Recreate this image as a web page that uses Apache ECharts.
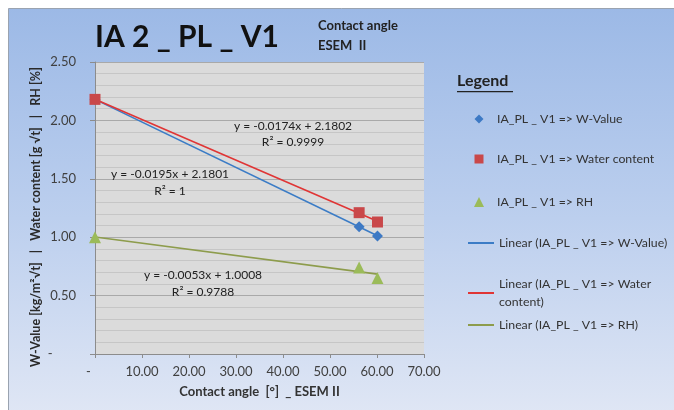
<!DOCTYPE html>
<html>
<head>
<meta charset="utf-8">
<script src="https://cdn.jsdelivr.net/npm/echarts@6/dist/echarts.min.js"></script>
<style>
html,body{margin:0;padding:0;background:#fff;}
#c{width:674px;height:410px;}
</style>
</head>
<body>
<div id="c"></div>
<script>
// ---- data ----
const contactAngle = [0, 56.2, 60.1];
const wValue = [2.18, 1.09, 1.01];
const waterContent = [2.18, 1.21, 1.13];
const rhValue = [1.00, 0.74, 0.65];

const seriesNames = ['IA_PL _ V1 => W-Value', 'IA_PL _ V1 => Water content', 'IA_PL _ V1 => RH'];
const trendNames = ['Linear (IA_PL _ V1 => W-Value)', 'Linear (IA_PL _ V1 => Water content)', 'Linear (IA_PL _ V1 => RH)'];
const eqW = ['y = -0.0195x + 2.1801', 'R² = 1'];
const eqWater = ['y = -0.0174x + 2.1802', 'R² = 0.9999'];
const eqRH = ['y = -0.0053x + 1.0008', 'R² = 0.9788'];

const xTicks = {min: 0, max: 70, interval: 10};
const yTicks = {min: 0, max: 2.5, interval: 0.5};

// least-squares trend line across the data's x range
function trend(xs, ys) {
  const n = xs.length;
  const mx = xs.reduce((a, b) => a + b, 0) / n;
  const my = ys.reduce((a, b) => a + b, 0) / n;
  let sxy = 0, sxx = 0;
  for (let i = 0; i < n; i++) { sxy += (xs[i] - mx) * (ys[i] - my); sxx += (xs[i] - mx) ** 2; }
  const m = sxy / sxx, b = my - m * mx;
  const x0 = Math.min(...xs), x1 = Math.max(...xs);
  return [[x0, m * x0 + b], [x1, m * x1 + b]];
}
const pts = ys => contactAngle.map((x, i) => [x, ys[i]]);

const FONT = 'Lato, "Open Sans", sans-serif';
const colW = '#3d79c4', colWater = '#c9484a', colRH = '#9bbb59';
const lineW = '#3b7cc6', lineWater = '#e03535', lineRH = '#8d9c4c';

const chart = echarts.init(document.getElementById('c'), null, {renderer: 'canvas'});

const legendText = {fontFamily: FONT, fontSize: 12.3, color: '#333', lineHeight: 18};
function legendItem(name, top, extra) {
  return Object.assign({
    data: [name], orient: 'vertical', left: 467, top: top, padding: 0,
    itemWidth: 26, itemHeight: 2, itemGap: 0,
    textStyle: legendText,
    selectedMode: false
  }, extra || {});
}
function markerLegend(name, top, size) {
  return legendItem(name, top, {left: 479 - size / 2, itemWidth: size, itemHeight: size,
    textStyle: Object.assign({}, legendText, {padding: [0, 0, 0, 13 - size / 2]})});
}

const option = {
  backgroundColor: '#ffffff',
  animation: false,
  textStyle: {fontFamily: FONT},
  title: [
    {text: 'IA 2 _ PL _ V1', left: 95, top: 22, padding: 0,
     textStyle: {fontFamily: FONT, fontSize: 30, fontWeight: 'bold', color: '#111'}},
    {text: 'Contact angle\nESEM  II', left: 318, top: 16, padding: 0,
     textStyle: {fontFamily: FONT, fontSize: 13, fontWeight: 'bold', color: '#222', lineHeight: 20}}
  ],
  legend: [
    markerLegend(seriesNames[0], 110, 9),
    markerLegend(seriesNames[1], 150, 9),
    markerLegend(seriesNames[2], 193, 10),
    legendItem(trendNames[0], 234),
    legendItem(trendNames[1], 266, {
      formatter: n => 'Linear (IA_PL _ V1 => Water\ncontent)',
      textStyle: Object.assign({}, legendText, {padding: [18, 0, 0, 0]})}),
    legendItem(trendNames[2], 316)
  ],
  grid: {left: 95, right: 250, top: 62, bottom: 56, show: true,
         backgroundColor: '#dbdbdb', borderWidth: 0},
  xAxis: {
    type: 'value', min: xTicks.min, max: xTicks.max, interval: xTicks.interval,
    name: 'Contact angle  [°]  _ ESEM II', nameLocation: 'middle', nameGap: 31,
    nameTextStyle: {fontFamily: FONT, fontSize: 13, fontWeight: 'bold', color: '#333'},
    axisLine: {onZero: false, lineStyle: {color: '#8c8c8c', width: 1}},
    axisTick: {show: true, inside: false, length: 4, lineStyle: {color: '#8c8c8c'}},
    axisLabel: {margin: 11, fontFamily: FONT, fontSize: 13, color: '#404040',
      formatter: v => v === 0 ? '-    ' : v.toFixed(2)},
    splitLine: {show: false}
  },
  yAxis: {
    type: 'value', min: yTicks.min, max: yTicks.max, interval: yTicks.interval,
    name: 'W-Value [kg/m²√t]   |   Water content [g √t]   |   RH [%]',
    nameLocation: 'middle', nameGap: 53,
    nameTextStyle: {fontFamily: FONT, fontSize: 12.5, fontWeight: 'bold', color: '#2a2a2a', padding: [0, 18, 0, 0]},
    axisLine: {show: true, lineStyle: {color: '#8c8c8c', width: 1}},
    axisTick: {show: true, inside: false, length: 5, lineStyle: {color: '#8c8c8c'}},
    axisLabel: {margin: 19, fontFamily: FONT, fontSize: 13, color: '#404040',
      formatter: v => v === 0 ? '-       ' : v.toFixed(2)},
    splitLine: {show: true, lineStyle: {color: '#a9a9a9', width: 1}},
    minorTick: {show: false, splitNumber: 5},
    minorSplitLine: {show: true, lineStyle: {color: '#c6c6c6', width: 1}}
  },
  series: [
    {name: trendNames[0], type: 'line', data: trend(contactAngle, wValue), symbol: 'none',
     lineStyle: {color: lineW, width: 1.6}, itemStyle: {color: lineW}, z: 2},
    {name: trendNames[1], type: 'line', data: trend(contactAngle, waterContent), symbol: 'none',
     lineStyle: {color: lineWater, width: 1.6}, itemStyle: {color: lineWater}, z: 2},
    {name: trendNames[2], type: 'line', data: trend(contactAngle, rhValue), symbol: 'none',
     lineStyle: {color: lineRH, width: 1.6}, itemStyle: {color: lineRH}, z: 2},
    {name: seriesNames[0], type: 'scatter', data: pts(wValue), symbol: 'diamond', symbolSize: 11,
     itemStyle: {color: colW, opacity: 1}, z: 3},
    {name: seriesNames[1], type: 'scatter', data: pts(waterContent), symbol: 'rect', symbolSize: 11,
     itemStyle: {color: colWater, opacity: 1}, z: 3},
    {name: seriesNames[2], type: 'scatter', data: pts(rhValue), symbol: 'triangle', symbolSize: 12,
     itemStyle: {color: colRH, opacity: 1}, z: 3}
  ],
  graphic: [
    {type: 'rect', z: -10, silent: true,
     shape: {x: 8.5, y: 8.5, width: 680, height: 420},
     style: {stroke: '#9aa3b0', lineWidth: 1,
       fill: new echarts.graphic.LinearGradient(0, 0, 0, 1, [
         {offset: 0, color: '#9cb9e6'}, {offset: 0.5, color: '#bccfee'}, {offset: 1, color: '#e2e8f5'}])}},
    {type: 'text', left: 457, top: 73, z: 10,
     style: {text: 'Legend', font: 'bold 16px ' + FONT, fill: '#222'}},
    {type: 'rect', left: 457, top: 91, z: 10, shape: {width: 56, height: 1.2}, style: {fill: '#222'}},
    {type: 'text', x: 293, y: 126, z: 10,
     style: {text: eqWater[0], font: '12px ' + FONT, fill: '#222', align: 'center', verticalAlign: 'middle'}},
    {type: 'text', x: 293, y: 142, z: 10,
     style: {text: eqWater[1], font: '12px ' + FONT, fill: '#222', align: 'center', verticalAlign: 'middle'}},
    {type: 'text', x: 170, y: 174, z: 10,
     style: {text: eqW[0], font: '12px ' + FONT, fill: '#222', align: 'center', verticalAlign: 'middle'}},
    {type: 'text', x: 170, y: 191, z: 10,
     style: {text: eqW[1], font: '12px ' + FONT, fill: '#222', align: 'center', verticalAlign: 'middle'}},
    {type: 'text', x: 203, y: 275, z: 10,
     style: {text: eqRH[0], font: '12px ' + FONT, fill: '#222', align: 'center', verticalAlign: 'middle'}},
    {type: 'text', x: 203, y: 292, z: 10,
     style: {text: eqRH[1], font: '12px ' + FONT, fill: '#222', align: 'center', verticalAlign: 'middle'}}
  ]
};
chart.setOption(option);
</script>
</body>
</html>
